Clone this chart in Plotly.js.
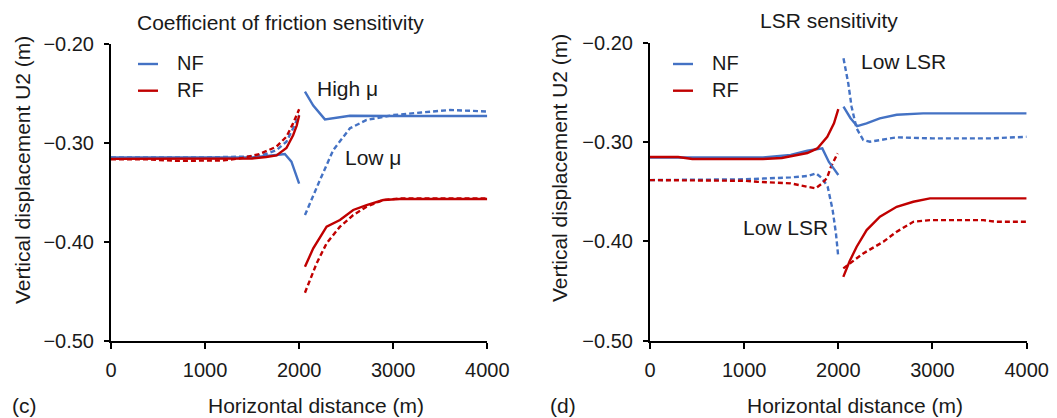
<!DOCTYPE html>
<html>
<head>
<meta charset="utf-8">
<script src="https://cdn.plot.ly/plotly-3.0.1.min.js"></script>
<style>html,body{margin:0;padding:0;background:#fff;}#chart{width:1057px;height:418px;}</style>
</head>
<body>
<div id="chart"></div>
<script>
// ---------- (c) Coefficient of friction sensitivity ----------
const fricNFHighX = [0, 500, 1000, 1500, 1760, 1848, 1918, 1971, 2000, null, 2062, 2150, 2274, 2400, 2540, 3000, 4000];
const fricNFHighY = [-0.3145, -0.3145, -0.3145, -0.3145, -0.312, -0.311, -0.3188, -0.332, -0.341, null, -0.248, -0.262, -0.276, -0.274, -0.2723, -0.2725, -0.2725];
const fricNFLowX = [0, 500, 1000, 1500, 1650, 1760, 1865, 1936, 2000, null, 2062, 2140, 2221, 2363, 2540, 2717, 3000, 3300, 3603, 4000];
const fricNFLowY = [-0.3145, -0.3145, -0.3145, -0.3135, -0.311, -0.307, -0.2986, -0.285, -0.2715, null, -0.3728, -0.355, -0.3374, -0.307, -0.285, -0.2766, -0.2716, -0.269, -0.2665, -0.268];
const fricRFHighX = [0, 500, 1000, 1500, 1650, 1760, 1865, 1936, 1975, 2000, null, 2062, 2150, 2292, 2434, 2575, 2717, 2894, 3071, 4000];
const fricRFHighY = [-0.316, -0.316, -0.316, -0.3155, -0.314, -0.3125, -0.305, -0.292, -0.282, -0.272, null, -0.4251, -0.4065, -0.3846, -0.3778, -0.3677, -0.3627, -0.3576, -0.3566, -0.3566];
const fricRFLowX = [0, 400, 700, 1000, 1200, 1400, 1582, 1759, 1865, 1936, 2000, null, 2062, 2186, 2292, 2434, 2575, 2717, 2894, 3071, 4000];
const fricRFLowY = [-0.3165, -0.3165, -0.318, -0.318, -0.3175, -0.315, -0.311, -0.3036, -0.2935, -0.280, -0.2658, null, -0.4514, -0.4217, -0.4014, -0.3846, -0.3728, -0.3644, -0.3576, -0.3559, -0.3559];

// ---------- (d) LSR sensitivity ----------
const lsrNFBaseX = [0, 400, 800, 1200, 1494, 1671, 1830, 1900, 1950, 2000, null, 2055, 2130, 2200, 2300, 2440, 2620, 2900, 3500, 4000];
const lsrNFBaseY = [-0.3155, -0.3155, -0.3155, -0.3155, -0.313, -0.3088, -0.3064, -0.320, -0.3265, -0.3332, null, -0.2644, -0.276, -0.2839, -0.2812, -0.2762, -0.2725, -0.2711, -0.2711, -0.2711];
const lsrNFLowX = [0, 500, 1000, 1494, 1671, 1763, 1830, 1887, 1940, 1975, 2000, null, 2055, 2106, 2141, 2194, 2265, 2336, 2548, 2620, 3000, 3620, 4000];
const lsrNFLowY = [-0.3383, -0.338, -0.3375, -0.3356, -0.3342, -0.3315, -0.3366, -0.345, -0.3685, -0.392, -0.4158, null, -0.2157, -0.241, -0.2645, -0.2862, -0.298, -0.2997, -0.2963, -0.2953, -0.2963, -0.2963, -0.2947];
const lsrRFBaseX = [0, 300, 450, 800, 1200, 1400, 1671, 1777, 1883, 1954, 2000, null, 2053, 2120, 2195, 2301, 2442, 2620, 2796, 2973, 4000];
const lsrRFBaseY = [-0.315, -0.315, -0.317, -0.317, -0.317, -0.316, -0.311, -0.3064, -0.2947, -0.2812, -0.2668, null, -0.4357, -0.420, -0.4054, -0.3886, -0.3752, -0.3652, -0.3601, -0.3567, -0.3567];
const lsrRFLowX = [0, 500, 1000, 1140, 1494, 1671, 1760, 1830, 1880, 1922, 1993, null, 2053, 2265, 2478, 2620, 2796, 2973, 3540, 3680, 4000];
const lsrRFLowY = [-0.3383, -0.3383, -0.339, -0.340, -0.3416, -0.345, -0.3466, -0.3416, -0.336, -0.3249, -0.3114, null, -0.4272, -0.4121, -0.4004, -0.3903, -0.3803, -0.3786, -0.3786, -0.3803, -0.3803];

const xTicks = [0, 1000, 2000, 3000, 4000];
const yTicks = [-0.50, -0.40, -0.30, -0.20];
const legendNames = ['NF', 'RF'];
const panelTitles = ['Coefficient of friction sensitivity', 'LSR sensitivity'];
const panelLabels = ['(c)', '(d)'];
const xTitle = 'Horizontal distance (m)';
const yTitle = 'Vertical displacement U2 (m)';

const BLUE = '#4472C4', RED = '#C00000';
const FONT = 'Arial, "Liberation Sans", sans-serif';
const DASH = '5px,3px';
const LW = 2.4;
const TXT = '#1a1a1a';

function tr(x, y, color, dash, xa, ya, name) {
  return {x: x, y: y, type: 'scatter', mode: 'lines', name: name, showlegend: false,
          xaxis: xa, yaxis: ya, connectgaps: false,
          line: {color: color, width: LW, dash: dash}, hoverinfo: 'x+y'};
}

const data = [
  tr(fricNFHighX, fricNFHighY, BLUE, 'solid', 'x', 'y', 'NF high μ'),
  tr(fricNFLowX, fricNFLowY, BLUE, DASH, 'x', 'y', 'NF low μ'),
  tr(fricRFLowX, fricRFLowY, RED, DASH, 'x', 'y', 'RF low μ'),
  tr(fricRFHighX, fricRFHighY, RED, 'solid', 'x', 'y', 'RF high μ'),
  tr(lsrNFLowX, lsrNFLowY, BLUE, DASH, 'x2', 'y2', 'NF low LSR'),
  tr(lsrRFLowX, lsrRFLowY, RED, DASH, 'x2', 'y2', 'RF low LSR'),
  tr(lsrNFBaseX, lsrNFBaseY, BLUE, 'solid', 'x2', 'y2', 'NF'),
  tr(lsrRFBaseX, lsrRFBaseY, RED, 'solid', 'x2', 'y2', 'RF')
];

function xaxis(domain, anchor) {
  return {domain: domain, anchor: anchor, range: [0, 4000], tickvals: xTicks, tickformat: 'd',
          showline: true, linecolor: '#000', linewidth: 2, ticks: 'outside', ticklen: 6, tickwidth: 2,
          tickcolor: '#000', showgrid: false, zeroline: false, tickfont: {family: FONT, size: 20, color: TXT},
          ticklabelstandoff: 4};
}
function yaxis(domain, anchor) {
  return {domain: domain, anchor: anchor, range: [-0.5, -0.2], tickvals: yTicks, tickformat: '.2f',
          showline: true, linecolor: '#000', linewidth: 2, ticks: 'outside', ticklen: 5, tickwidth: 2,
          tickcolor: '#000', showgrid: false, zeroline: false, tickfont: {family: FONT, size: 20, color: TXT},
          ticklabelstandoff: 6};
}

const txt = (text, x, y, opts) => Object.assign({text: text, x: x, y: y, xref: 'paper', yref: 'paper',
  showarrow: false, xanchor: 'center', yanchor: 'middle', font: {family: FONT, size: 21, color: TXT}}, opts || {});

const annotations = [
  txt(panelTitles[0], 0.2658, 0.946),
  txt(panelTitles[1], 0.7843, 0.950),
  txt(yTitle, 0.0208, 0.593, {textangle: -90}),
  txt(yTitle, 0.5289, 0.598, {textangle: -90}),
  txt(xTitle, 0.2985, 0.029),
  txt(xTitle, 0.809, 0.029),
  txt(panelLabels[0], 0.0234, 0.031),
  txt(panelLabels[1], 0.533, 0.031),
  // legends
  txt(legendNames[0], 175 / 1057, 1 - 63.5 / 418, {xanchor: 'left', font: {family: FONT, size: 20, color: TXT}}),
  txt(legendNames[1], 175 / 1057, 1 - 90.5 / 418, {xanchor: 'left', font: {family: FONT, size: 20, color: TXT}}),
  txt(legendNames[0], 710 / 1057, 1 - 63.5 / 418, {xanchor: 'left', font: {family: FONT, size: 20, color: TXT}}),
  txt(legendNames[1], 710 / 1057, 1 - 90.5 / 418, {xanchor: 'left', font: {family: FONT, size: 20, color: TXT}}),
  // curve labels
  {text: 'High μ', x: 2168, y: -0.2452, xref: 'x', yref: 'y', showarrow: false, xanchor: 'left', yanchor: 'middle', font: {family: FONT, size: 21, color: TXT}},
  {text: 'Low μ', x: 2469, y: -0.3146, xref: 'x', yref: 'y', showarrow: false, xanchor: 'left', yanchor: 'middle', font: {family: FONT, size: 21, color: TXT}},
  {text: 'Low LSR', x: 2223, y: -0.219, xref: 'x2', yref: 'y2', showarrow: false, xanchor: 'left', yanchor: 'middle', font: {family: FONT, size: 21, color: TXT}},
  {text: 'Low LSR', x: 963, y: -0.3861, xref: 'x2', yref: 'y2', showarrow: false, xanchor: 'left', yanchor: 'middle', font: {family: FONT, size: 21, color: TXT}}
];

const legLine = (x0, x1, yPix, color) => ({type: 'line', xref: 'paper', yref: 'paper',
  x0: x0 / 1057, x1: x1 / 1057, y0: 1 - yPix / 418, y1: 1 - yPix / 418, line: {color: color, width: LW}});
const shapes = [
  legLine(138, 158, 64, BLUE), legLine(138, 158, 90.7, RED),
  legLine(673, 693, 64, BLUE), legLine(673, 693, 90.7, RED)
];

const layout = {
  width: 1057, height: 418, margin: {l: 0, r: 0, t: 0, b: 0},
  paper_bgcolor: '#fff', plot_bgcolor: '#fff', showlegend: false,
  font: {family: FONT, color: TXT},
  xaxis: xaxis([0.1050, 0.4610], 'y'),
  yaxis: yaxis([0.1849, 0.8940], 'x'),
  xaxis2: xaxis([0.6149, 0.9713], 'y2'),
  yaxis2: yaxis([0.1849, 0.8978], 'x2'),
  annotations: annotations, shapes: shapes
};

Plotly.newPlot('chart', data, layout, {displayModeBar: false, staticPlot: true});
</script>
</body>
</html>
